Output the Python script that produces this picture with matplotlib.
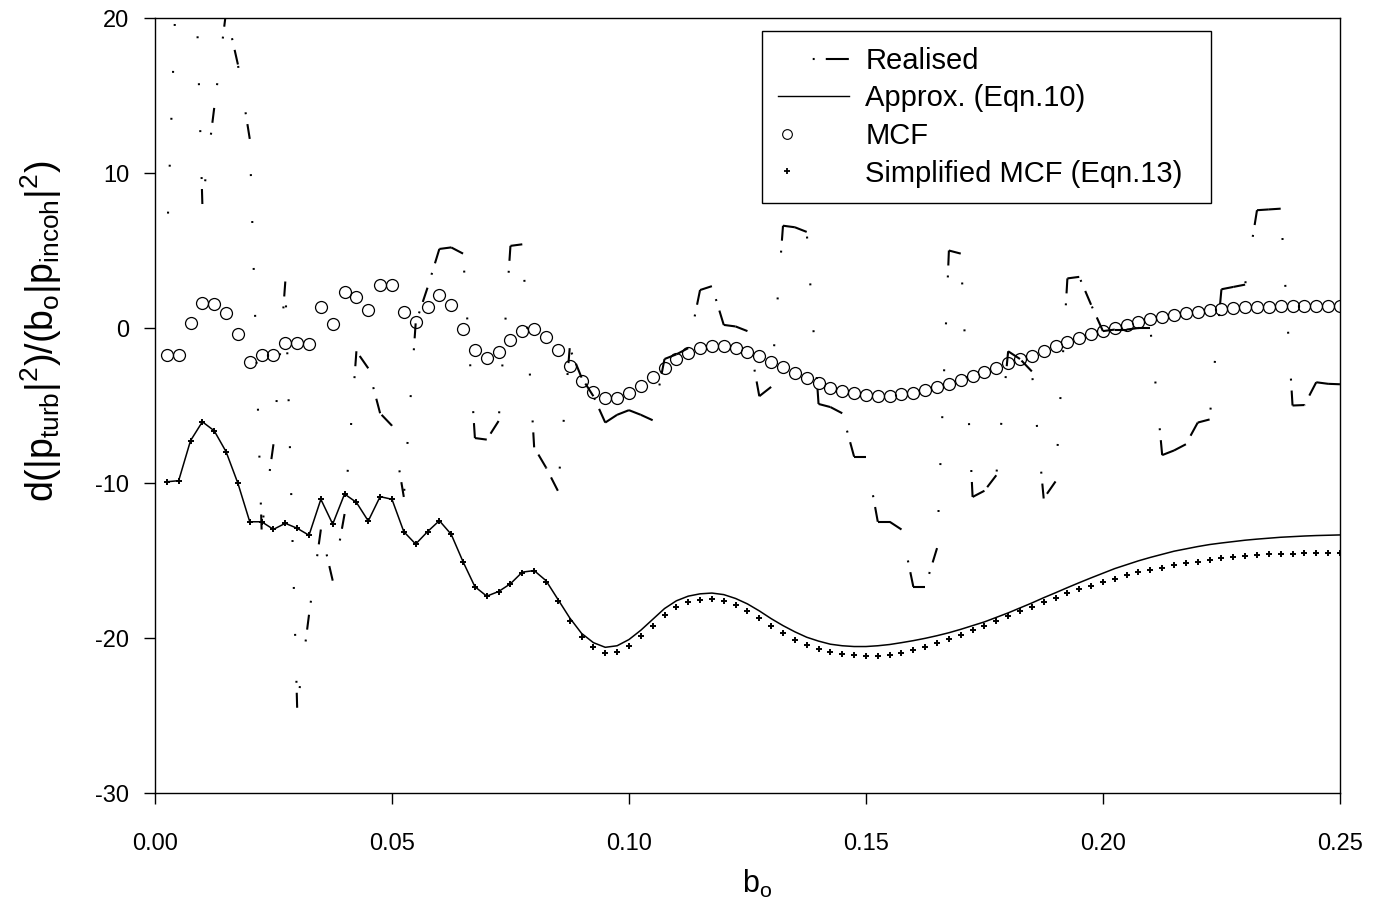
import numpy as np
import matplotlib.pyplot as plt
from matplotlib.collections import LineCollection
from matplotlib.lines import Line2D
from matplotlib.legend_handler import HandlerLine2D

plt.rcParams['font.family'] = ['Liberation Sans', 'DejaVu Sans']
plt.rcParams['mathtext.fontset'] = 'custom'
plt.rcParams['mathtext.rm'] = 'Liberation Sans'
plt.rcParams['mathtext.it'] = 'Liberation Sans:italic'
plt.rcParams['axes.unicode_minus'] = False
plt.rcParams['lines.scale_dashes'] = False

# b_o sampling grid
b0 = np.linspace(0.0025, 0.25, 100)

realised = [
    5.2, 26.7, 34.7, 8.0, 14.2, 20.4, 17.0, 12.2, -13.0, -7.5,
    3.0, -24.5, -18.5, -13.0, -16.3, -12.0, -1.5, -2.6, -5.5, -6.3,
    -10.9, 0.3, 2.6, 5.1, 5.2, 4.8, -7.1, -7.2, -6.0, 5.3,
    5.4, -7.7, -9.0, -10.5, -1.3, -3.2, -4.4, -6.1, -5.6, -5.3,
    -5.6, -5.95, -2.0, -1.7, -1.3, 2.45, 2.7, 0.2, 0.1, -0.2,
    -4.4, -3.8, 6.6, 6.5, 6.2, -4.9, -5.1, -5.5, -8.3, -8.3,
    -12.5, -12.5, -13.0, -16.7, -16.7, -14.2, 5.0, 4.8, -10.9, -10.5,
    -9.5, -1.5, -2.0, -2.8, -11.0, -9.9, 3.2, 3.3, 1.5, -0.2,
    -0.1, -0.1, 0.0, 0.0, -8.2, -7.9, -7.5, -6.1, -5.9, 2.5,
    2.65, 2.8, 7.6, 7.65, 7.7, -5.0, -4.97, -3.5, -3.6, -3.63,
]

approx = [
    -9.92, -9.85, -7.27, -6.05, -6.63, -7.98, -10.02, -12.5, -12.5, -12.99,
    -12.6, -12.92, -13.37, -11.05, -12.65, -10.71, -11.25, -12.45, -10.88, -11.05,
    -13.14, -13.94, -13.14, -12.43, -13.31, -15.08, -16.69, -17.3, -17.0, -16.5,
    -15.75, -15.65, -16.3, -17.5, -18.7, -19.7, -20.3, -20.6, -20.5, -20.1,
    -19.5, -18.8, -18.1, -17.6, -17.3, -17.15, -17.1, -17.2, -17.45, -17.8,
    -18.25, -18.75, -19.2, -19.6, -19.95, -20.2, -20.4, -20.5, -20.55, -20.55,
    -20.5, -20.42, -20.3, -20.17, -20.02, -19.85, -19.66, -19.44, -19.2, -18.96,
    -18.67, -18.38, -18.06, -17.74, -17.4, -17.08, -16.75, -16.43, -16.12, -15.82,
    -15.52, -15.27, -15.02, -14.8, -14.6, -14.4, -14.25, -14.1, -13.97, -13.87,
    -13.78, -13.69, -13.62, -13.56, -13.5, -13.46, -13.42, -13.39, -13.37, -13.35,
]

mcf = [
    -1.74, -1.74, 0.30, 1.63, 1.57, 0.95, -0.41, -2.17, -1.72, -1.72,
    -0.99, -0.99, -1.05, 1.37, 0.23, 2.30, 2.02, 1.14, 2.77, 2.77,
    1.05, 0.41, 1.37, 2.13, 1.48, -0.05, -1.44, -1.96, -1.57, -0.80,
    -0.20, -0.09, -0.56, -1.42, -2.45, -3.42, -4.15, -4.50, -4.50, -4.20,
    -3.74, -3.14, -2.56, -2.02, -1.59, -1.27, -1.16, -1.16, -1.27, -1.53,
    -1.81, -2.17, -2.54, -2.90, -3.25, -3.55, -3.85, -4.06, -4.21, -4.32,
    -4.37, -4.37, -4.28, -4.17, -4.00, -3.83, -3.59, -3.35, -3.12, -2.84,
    -2.56, -2.28, -2.00, -1.79, -1.48, -1.18, -0.90, -0.65, -0.39, -0.19,
    0.02, 0.21, 0.39, 0.56, 0.71, 0.84, 0.95, 1.03, 1.14, 1.20,
    1.27, 1.33, 1.37, 1.37, 1.43, 1.43, 1.43, 1.43, 1.43, 1.43,
]

simplified = [
    -9.92, -9.85, -7.27, -6.05, -6.63, -7.98, -10.02, -12.5, -12.5, -12.99,
    -12.6, -12.92, -13.37, -11.05, -12.65, -10.71, -11.25, -12.45, -10.88, -11.05,
    -13.14, -13.94, -13.14, -12.43, -13.31, -15.08, -16.69, -17.3, -17.0, -16.5,
    -15.8, -15.7, -16.4, -17.6, -18.9, -19.95, -20.6, -20.95, -20.9, -20.5,
    -19.9, -19.2, -18.5, -18.0, -17.7, -17.55, -17.5, -17.6, -17.85, -18.25,
    -18.7, -19.2, -19.7, -20.1, -20.45, -20.7, -20.9, -21.05, -21.1, -21.15,
    -21.15, -21.1, -20.95, -20.77, -20.58, -20.34, -20.06, -19.79, -19.48, -19.2,
    -18.88, -18.58, -18.26, -17.98, -17.68, -17.4, -17.12, -16.86, -16.62, -16.39,
    -16.17, -15.95, -15.76, -15.61, -15.46, -15.31, -15.18, -15.08, -14.97, -14.86,
    -14.77, -14.71, -14.65, -14.6, -14.58, -14.56, -14.54, -14.54, -14.54, -14.54,
]

labels = ['Realised', 'Approx. (Eqn.10)', 'MCF', 'Simplified MCF (Eqn.13)']

# realised dash-dot pattern (points): dash, gap, then a run of dots
dot_run = [1.4, 32.4] * 12
real_ls = (0, [10.8, 7.2] + dot_run)


class LeftMarker(HandlerLine2D):
    # put the single legend marker near the left end of the handle
    def get_xdata(self, legend, xdescent, ydescent, width, height, fontsize):
        xd = np.array([-xdescent + 0.13 * width])
        return xd, xd


fig = plt.figure(figsize=(13.75, 9.19), dpi=100)
ax = fig.add_axes([0.1127, 0.1371, 0.8618, 0.8433])

# each segment is drawn from its far end back, so the pattern restarts there
segs = [[(b0[i + 1], realised[i + 1]), (b0[i], realised[i])] for i in range(len(b0) - 1)]
lc = LineCollection(segs, colors='k', linewidths=1.5, linestyles=[real_ls], capstyle='butt')
ax.add_collection(lc)

ax.plot(b0, approx, color='k', lw=1.1)
ax.plot(b0, mcf, ls='none', marker='o', ms=8.6, mfc='none', mec='k', mew=0.9)
ax.plot(b0, simplified, ls='none', marker='+', ms=5, mec='k', mew=1.4)

ax.set_xlim(0, 0.25)
ax.set_ylim(-30, 20)
ax.set_xticks(np.arange(0, 0.2501, 0.05))
ax.set_xticklabels(['%.2f' % t for t in np.arange(0, 0.2501, 0.05)])
ax.set_yticks([-30, -20, -10, 0, 10, 20])
ax.tick_params(direction='out', length=8, width=1.0, labelsize=17)
ax.tick_params(axis='x', pad=21)
ax.tick_params(axis='y', pad=10.5)
for s in ax.spines.values():
    s.set_linewidth(1.0)

ax.set_xlabel(r'b$_{\rm o}$', fontsize=22)
ax.xaxis.set_label_coords(0.508, -0.097)
ax.set_ylabel(r'd(|p$_{\rm turb}$|$^{2}$)/(b$_{\rm o}$|p$_{\rm incoh}$|$^{2}$)', fontsize=27)
ax.yaxis.set_label_coords(-0.077, 0.596)

# legend handles
h_real = Line2D([], [], color='k', lw=1.5, dash_capstyle='butt',
                linestyle=(26.0, (1.4, 8.0, 16.6, 25.0)))
h_apx = Line2D([], [], color='k', lw=1.0)
h_mcf = Line2D([], [], ls='none', marker='o', ms=7, mfc='none', mec='k', mew=0.8)
h_smp = Line2D([], [], ls='none', marker='+', ms=4, mec='k', mew=1.3)

leg = ax.legend([h_real, h_apx, h_mcf, h_smp], labels, loc='upper left',
                bbox_to_anchor=(0.5122, 0.7632, 0.3789, 0.22), mode='expand',
                fontsize=21, handlelength=2.43, handletextpad=0.58,
                borderpad=0.54, labelspacing=0.33, borderaxespad=0,
                fancybox=False, edgecolor='k', framealpha=1,
                handler_map={h_mcf: LeftMarker(), h_smp: LeftMarker()})
leg.get_frame().set_linewidth(1.0)

fig.savefig('out.png', dpi=100)
